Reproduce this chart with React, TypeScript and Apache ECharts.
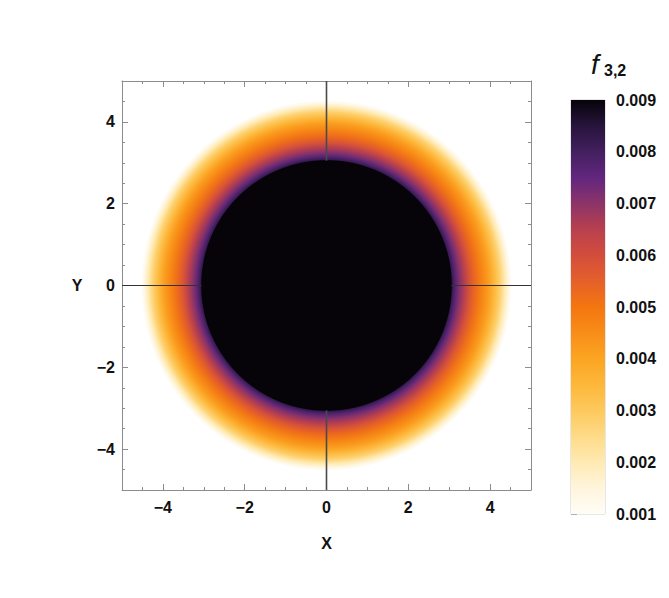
import React, { useEffect, useRef } from "react";
import * as echarts from "echarts";

// ---- data ----
// radial profile of f(3,2): radius -> value (inside first radius: saturated, black)
const RADII = [3.05, 3.08, 3.15, 3.25, 3.38, 3.51, 3.66, 3.8, 3.95, 4.1, 4.24, 4.36, 4.46, 4.52];
const VALUES = [0.009, 0.0082, 0.0077, 0.0071, 0.0065, 0.0058, 0.0052, 0.0047, 0.0042, 0.0035, 0.0028, 0.002, 0.0013, 0.001];

// colour scale (value -> colour)
const CMAP_VALUES = [0.001, 0.0015, 0.002, 0.0025, 0.003, 0.0035, 0.004, 0.0045, 0.005, 0.0055, 0.006, 0.0065, 0.007, 0.0075, 0.008, 0.0085, 0.009];
const CMAP_COLORS = [
  "#fffdf7", "#fff5dd", "#ffeab2", "#fedb88", "#fdc95d", "#fdb73a", "#fba522", "#f88d19", "#f4760f",
  "#e5602a", "#d34d3c", "#b8404e", "#8c3468", "#62267f", "#43205f", "#27143c", "#060409",
];

const AXIS_MIN = -5;
const AXIS_MAX = 5;
const MINOR_STEP = 0.5;
const MAJOR_TICKS = [-4, -2, 0, 2, 4];
const CB_MIN = 0.001;
const CB_MAX = 0.009;
const CB_STEP = 0.001;

function hexToRgb(h: string) {
  const n = parseInt(h.slice(1), 16);
  return [(n >> 16) & 255, (n >> 8) & 255, n & 255];
}

function colorOf(v: number) {
  if (v <= CMAP_VALUES[0]) return CMAP_COLORS[0];
  const last = CMAP_VALUES.length - 1;
  if (v >= CMAP_VALUES[last]) return CMAP_COLORS[last];
  for (let i = 0; i < last; i++) {
    const a = CMAP_VALUES[i], b = CMAP_VALUES[i + 1];
    if (v >= a && v <= b) {
      const t = (v - a) / (b - a);
      const c0 = hexToRgb(CMAP_COLORS[i]);
      const c1 = hexToRgb(CMAP_COLORS[i + 1]);
      const c = c0.map((x, k) => Math.round(x + (c1[k] - x) * t));
      return `rgb(${c[0]},${c[1]},${c[2]})`;
    }
  }
  return CMAP_COLORS[last];
}

const FRAME = "#8c8c8c";
const FONT = "Liberation Sans, Arial, sans-serif";
const LABEL_COLOR = "#111";

function fmtTick(v: number) {
  if (Math.abs(v - Math.round(v)) > 1e-9) return "";
  const r = Math.round(v);
  if (r % 2 !== 0) return "";
  return r < 0 ? "\u2212" + Math.abs(r) : String(r);
}

function minorAxis(gridIndex: number, position: string, showLabel: boolean, margin: number) {
  return {
    type: "value",
    gridIndex,
    position,
    min: AXIS_MIN,
    max: AXIS_MAX,
    interval: MINOR_STEP,
    axisLine: { show: true, onZero: false, lineStyle: { color: FRAME, width: 1 } },
    axisTick: { show: true, inside: true, length: 3, lineStyle: { color: FRAME, width: 1 } },
    axisLabel: {
      show: showLabel,
      formatter: fmtTick,
      fontSize: 16,
      fontWeight: "bold",
      fontFamily: FONT,
      color: LABEL_COLOR,
      margin,
    },
    splitLine: { show: false },
  };
}

function majorAxis(gridIndex: number, position: string) {
  return {
    type: "value",
    gridIndex,
    position,
    min: AXIS_MIN,
    max: AXIS_MAX,
    axisLine: { show: false, onZero: false },
    axisTick: { show: true, inside: true, length: 6, customValues: MAJOR_TICKS, lineStyle: { color: FRAME, width: 1 } },
    axisLabel: { show: false },
    splitLine: { show: false },
  };
}

function ringRenderer(params: any, api: any) {
  const r = api.value(0);
  const v = api.value(1);
  const r0 = api.value(2);
  const v0 = api.value(3);
  const c = api.coord([0, 0]);
  const R = Math.abs(api.size([r, 0])[0]);
  const fill =
    r0 === 0
      ? colorOf(v)
      : new echarts.graphic.RadialGradient(0.5, 0.5, 0.5, [
          { offset: 0, color: colorOf(v0) },
          { offset: r0 / r, color: colorOf(v0) },
          { offset: 1, color: colorOf(v) },
        ]);
  return { type: "circle", shape: { cx: c[0], cy: c[1], r: R }, style: { fill } };
}

export default function App() {
  const ref = useRef<HTMLDivElement>(null);

  useEffect(() => {
    if (!ref.current) return;
    const chart = echarts.init(ref.current, null, { renderer: "svg" });

    const allRings = RADII.map((r, i) => [
      r,
      VALUES[i],
      i > 0 ? RADII[i - 1] : 0,
      i > 0 ? VALUES[i - 1] : VALUES[i],
    ]);
    const outerRings = allRings.slice(1).reverse();
    const core = allRings.slice(0, 1);

    const cbStops = CMAP_VALUES.map((v, i) => ({
      offset: (CB_MAX - v) / (CB_MAX - CB_MIN),
      color: CMAP_COLORS[i],
    })).sort((a, b) => a.offset - b.offset);

    const grid = { left: 114, top: 73, width: 409, height: 409 };

    const option: any = {
      animation: false,
      backgroundColor: "#ffffff",
      grid: [
        { ...grid, show: false },
        { ...grid, show: false },
        { left: 563, top: 92, width: 34, height: 414, show: true, borderColor: "#cfcfcf", borderWidth: 1 },
      ],
      xAxis: [
        minorAxis(0, "bottom", true, 9),
        minorAxis(0, "top", false, 8),
        majorAxis(1, "bottom"),
        majorAxis(1, "top"),
        { type: "value", gridIndex: 2, min: 0, max: 1, show: false },
      ],
      yAxis: [
        minorAxis(0, "left", true, 7),
        minorAxis(0, "right", false, 8),
        majorAxis(1, "left"),
        majorAxis(1, "right"),
        {
          type: "value",
          gridIndex: 2,
          position: "right",
          min: CB_MIN,
          max: CB_MAX,
          interval: CB_STEP,
          axisLine: { show: false },
          axisTick: { show: true, inside: false, length: 6, lineStyle: { color: "#b0b0b0" } },
          axisLabel: {
            formatter: (v: number) => v.toFixed(3),
            fontSize: 16,
            fontWeight: "bold",
            fontFamily: FONT,
            color: LABEL_COLOR,
            margin: 11,
          },
          splitLine: { show: false },
        },
      ],
      series: [
        {
          type: "custom",
          xAxisIndex: 0,
          yAxisIndex: 0,
          data: outerRings,
          renderItem: ringRenderer,
          silent: true,
          z: 2,
        },
        {
          type: "line",
          xAxisIndex: 0,
          yAxisIndex: 0,
          data: [[AXIS_MIN, 0], [AXIS_MAX, 0]],
          showSymbol: false,
          symbol: "none",
          lineStyle: { color: "#333333", width: 1.2 },
          silent: true,
          z: 5,
        },
        {
          type: "line",
          xAxisIndex: 0,
          yAxisIndex: 0,
          data: [[0, AXIS_MIN], [0, AXIS_MAX]],
          showSymbol: false,
          symbol: "none",
          lineStyle: { color: "#4a4a4a", width: 1.6 },
          silent: true,
          z: 5,
        },
        {
          type: "custom",
          xAxisIndex: 0,
          yAxisIndex: 0,
          data: core,
          renderItem: ringRenderer,
          silent: true,
          z: 6,
        },
        {
          type: "custom",
          xAxisIndex: 4,
          yAxisIndex: 4,
          data: [[0.5, CB_MAX, CB_MIN]],
          renderItem: (params: any, api: any) => {
            const top = api.coord([0, api.value(1)])[1];
            const bottom = api.coord([0, api.value(2)])[1];
            const cs = params.coordSys;
            return {
              type: "rect",
              shape: { x: cs.x, y: top, width: cs.width, height: bottom - top },
              style: { fill: new echarts.graphic.LinearGradient(0, 0, 0, 1, cbStops) },
            };
          },
          silent: true,
          z: 2,
        },
      ],
      graphic: [
        {
          type: "text",
          x: 318.5,
          y: 535,
          style: { text: "X", fontSize: 16, fontWeight: "bold", fontFamily: FONT, fill: LABEL_COLOR, align: "center", verticalAlign: "middle" },
        },
        {
          type: "text",
          x: 69,
          y: 277.5,
          style: { text: "Y", fontSize: 16, fontWeight: "bold", fontFamily: FONT, fill: LABEL_COLOR, align: "center", verticalAlign: "middle" },
        },
        {
          type: "text",
          x: 583,
          y: 56,
          style: { text: "f", fontSize: 28, fontStyle: "italic", fontFamily: FONT, fill: LABEL_COLOR, align: "left", verticalAlign: "middle" },
        },
        {
          type: "text",
          x: 596,
          y: 62,
          style: { text: "3,2", fontSize: 16, fontWeight: "bold", fontFamily: FONT, fill: LABEL_COLOR, align: "left", verticalAlign: "middle" },
        },
      ],
    };

    chart.setOption(option);
    return () => chart.dispose();
  }, []);

  return <div ref={ref} style={{ width: 653, height: 582 }} />;
}
